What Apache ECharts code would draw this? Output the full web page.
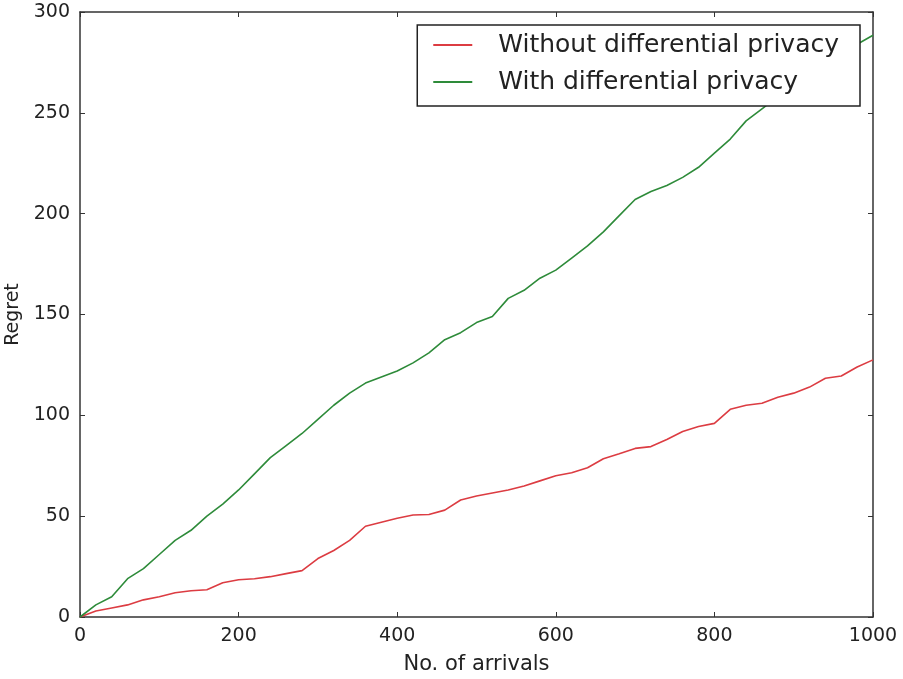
<!DOCTYPE html>
<html>
<head>
<meta charset="utf-8">
<script src="https://cdn.jsdelivr.net/npm/echarts@6/dist/echarts.min.js"></script>
<style>
  html, body { margin: 0; padding: 0; background: #fff; }
  #chart-container { width: 903px; height: 679px; }
</style>
</head>
<body>
<div id="chart-container"></div>
<script>
// arrivals sampled every 20
const arrivals = [0, 20, 40, 60, 80, 100, 120, 140, 160, 180, 200, 220, 240, 260, 280, 300,
  320, 340, 360, 380, 400, 420, 440, 460, 480, 500, 520, 540, 560, 580, 600, 620, 640, 660,
  680, 700, 720, 740, 760, 780, 800, 820, 840, 860, 880, 900, 920, 940, 960, 980, 1000];

const regretNoDp = [0, 3, 4.5, 6, 8.5, 10, 12, 13, 13.5, 17, 18.5, 19, 20, 21.5, 23, 29,
  33, 38, 45, 47, 49, 50.6, 50.8, 53, 58, 60, 61.5, 63, 65, 67.5, 70, 71.5, 74, 78.5,
  81, 83.6, 84.5, 88, 92, 94.5, 96, 103, 105, 106, 109, 111, 114, 118.4, 119.5, 124, 127.5];

const regretDp = [0, 6, 10, 19, 24, 31, 38, 43, 50, 56, 63, 71, 79, 85, 91, 98,
  105, 111, 116, 119, 122, 126, 131, 137.5, 141, 146, 149, 158, 162, 168, 172, 178, 184, 191,
  199, 207, 211, 214, 218, 223, 230, 237, 246, 252, 258, 263, 268, 273, 278, 284, 288.5];

const xTicks = [0, 200, 400, 600, 800, 1000];
const yTicks = [0, 50, 100, 150, 200, 250, 300];

const seriesNames = ['Without differential privacy', 'With differential privacy'];

let myChart = echarts.init(document.getElementById('chart-container'), null, { renderer: 'canvas' });

const axisColor = '#333';
const labelFont = { fontFamily: 'DejaVu Sans', fontSize: 19, color: '#222' };

function pairs(vals) {
  return arrivals.map((x, i) => [x, vals[i]]);
}

const baseX = {
  type: 'value', min: xTicks[0], max: xTicks[xTicks.length - 1], interval: 200,
  axisLine: { show: true, onZero: false, lineStyle: { color: axisColor, width: 1.5 } },
  axisTick: { show: true, inside: true, length: 5, lineStyle: { color: axisColor } },
  splitLine: { show: false }
};
const baseY = {
  type: 'value', min: yTicks[0], max: yTicks[yTicks.length - 1], interval: 50,
  axisLine: { show: true, onZero: false, lineStyle: { color: axisColor, width: 1.5 } },
  axisTick: { show: true, inside: true, length: 5, lineStyle: { color: axisColor } },
  splitLine: { show: false }
};

const opciones = {
  animation: false,
  backgroundColor: '#fff',
  grid: { left: 80, right: 30, top: 12, bottom: 62, containLabel: false, outerBoundsMode: 'none' },
  legend: {
    orient: 'vertical',
    right: 43,
    top: 25,
    data: seriesNames,
    backgroundColor: '#fff',
    borderColor: '#222',
    borderWidth: 1.5,
    borderRadius: 0,
    padding: [6, 21, 10, 16],
    itemWidth: 39,
    itemHeight: 2,
    itemGap: 9,
    icon: 'rect',
    textStyle: { fontFamily: 'DejaVu Sans', fontSize: 25, color: '#222', lineHeight: 28, padding: [0, 0, 0, 21] }
  },
  xAxis: [
    Object.assign({}, baseX, {
      position: 'bottom',
      name: 'No. of arrivals',
      nameLocation: 'middle',
      nameGap: 37,
      nameTextStyle: { fontFamily: 'DejaVu Sans', fontSize: 21, color: '#222' },
      axisLabel: Object.assign({ margin: 10, formatter: (v) => String(v) }, labelFont)
    }),
    Object.assign({}, baseX, { position: 'top', axisLabel: { show: false } })
  ],
  yAxis: [
    Object.assign({}, baseY, {
      position: 'left',
      name: 'Regret',
      nameLocation: 'middle',
      nameGap: 57,
      nameTextStyle: { fontFamily: 'DejaVu Sans', fontSize: 19, color: '#222' },
      axisLabel: Object.assign({ margin: 10, formatter: (v) => String(v) }, labelFont)
    }),
    Object.assign({}, baseY, { position: 'right', axisLabel: { show: false } })
  ],
  series: [
    {
      name: seriesNames[0],
      type: 'line',
      data: pairs(regretNoDp),
      showSymbol: false,
      color: '#dc3c42',
      lineStyle: { width: 1.6, color: '#dc3c42' },
      z: 2
    },
    {
      name: seriesNames[1],
      type: 'line',
      data: pairs(regretDp),
      showSymbol: false,
      color: '#2e8b3a',
      lineStyle: { width: 1.6, color: '#2e8b3a' },
      z: 2
    }
  ]
};

myChart.setOption(opciones);
window.addEventListener('resize', myChart.resize);
</script>
</body>
</html>
